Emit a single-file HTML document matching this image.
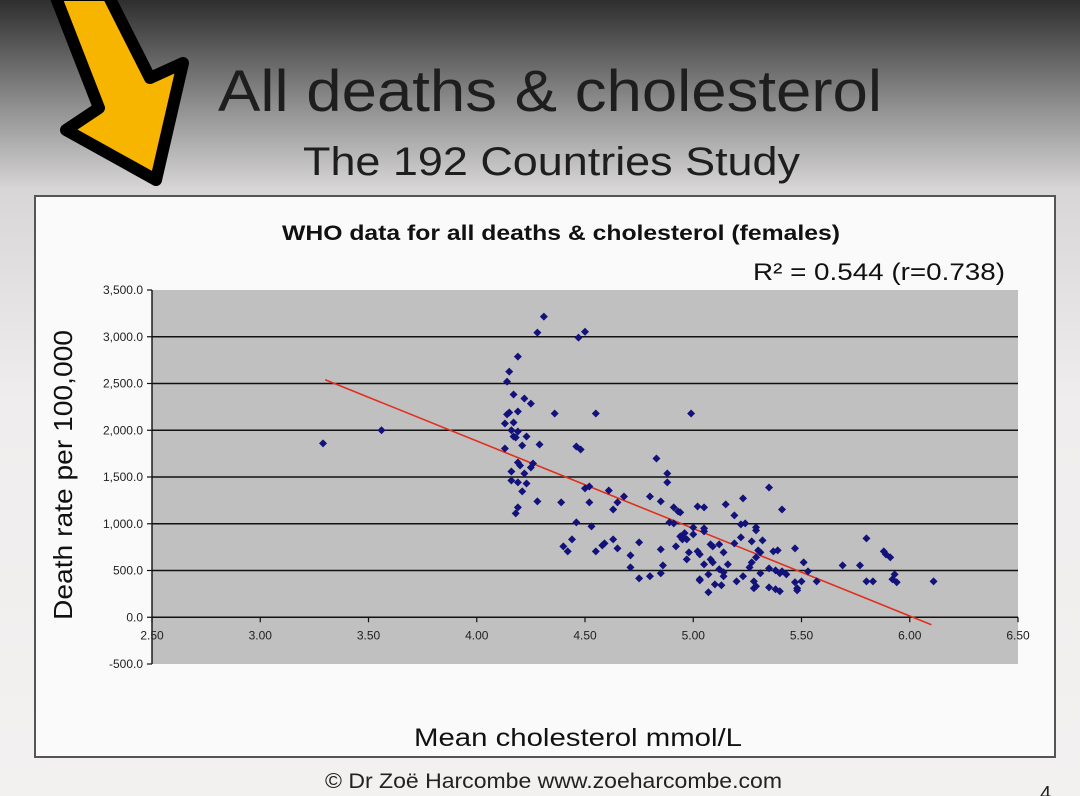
<!DOCTYPE html>
<html><head><meta charset="utf-8">
<style>
html,body{margin:0;padding:0;width:1080px;height:796px;overflow:hidden;font-family:"Liberation Sans","DejaVu Sans",sans-serif;}
body{background:linear-gradient(#2e2e2e 0px,#8a8a8a 100px,#d8d6d6 190px,#efeded 400px,#f3f0f0 796px);}
</style></head>
<body>
<svg width="1080" height="796" xmlns="http://www.w3.org/2000/svg">
<g>
<polygon points="55,-5 108,-5 150,78 183,63 156,180 66,130 99,108" fill="#f7b500" stroke="#000" stroke-width="12" stroke-linejoin="round"/>
</g>
<text x="218" y="111" font-size="58" textLength="664" lengthAdjust="spacingAndGlyphs" fill="#1e1e1e">All deaths &amp; cholesterol</text>
<text x="303" y="175" font-size="40" textLength="497" lengthAdjust="spacingAndGlyphs" fill="#1e1e1e">The 192 Countries Study</text>
<rect x="35" y="196" width="1020" height="561" fill="#fafafa" stroke="#555" stroke-width="2"/>
<text x="282" y="240" font-size="21" font-weight="bold" textLength="558" lengthAdjust="spacingAndGlyphs" fill="#111">WHO data for all deaths &amp; cholesterol (females)</text>
<text x="753" y="280" font-size="24" textLength="252" lengthAdjust="spacingAndGlyphs" fill="#111">R² = 0.544 (r=0.738)</text>
<text transform="translate(72,620) rotate(-90)" font-size="26" textLength="290" lengthAdjust="spacingAndGlyphs" fill="#111">Death rate per 100,000</text>
<text x="414" y="746" font-size="25" textLength="328" lengthAdjust="spacingAndGlyphs" fill="#111">Mean cholesterol mmol/L</text>
<text x="325" y="788" font-size="21" textLength="457" lengthAdjust="spacingAndGlyphs" fill="#222">© Dr Zoë Harcombe www.zoeharcombe.com</text>
<text x="1040" y="800" font-size="20" fill="#222">4</text>
<g id="plot"></g>
</svg>
<script>
const xTicks=[2.5,3.0,3.5,4.0,4.5,5.0,5.5,6.0,6.5];
const yTicks=[-500,0,500,1000,1500,2000,2500,3000,3500];
const chol=[3.29,3.56,4.31,4.28,4.47,4.50,4.19,4.15,4.14,4.17,4.22,4.25,4.36,4.55,4.99,4.15,4.14,4.19,4.13,4.17,4.16,4.17,4.18,4.19,4.23,4.21,4.29,4.46,4.48,4.13,4.19,4.20,4.26,4.25,4.16,4.22,4.16,4.19,4.23,4.21,4.28,4.39,4.19,4.18,4.50,4.52,4.61,4.68,4.65,4.63,4.52,4.46,4.53,4.83,4.88,4.88,4.80,4.85,4.91,4.93,4.89,4.91,4.40,4.42,4.44,4.55,4.58,4.59,4.63,4.65,4.71,4.71,4.75,4.75,4.80,4.85,4.86,4.85,4.92,4.94,4.95,5.35,5.23,5.02,5.05,5.15,5.41,5.19,4.94,5.22,5.24,5.29,5.29,5.05,5.05,4.95,4.97,5.00,5.80,5.22,5.27,5.19,5.32,5.08,5.09,5.12,5.47,5.30,5.31,5.88,5.89,5.91,4.98,5.02,5.03,5.14,5.37,5.39,4.97,5.08,5.09,5.29,5.51,5.05,5.16,5.27,5.26,5.69,5.77,5.12,5.14,5.35,5.38,5.41,5.53,5.31,5.40,5.43,5.07,5.14,5.93,5.23,5.20,5.03,5.28,5.29,5.47,5.50,5.80,5.83,5.92,5.94,6.11,5.57,5.10,5.13,5.48,5.48,5.35,5.38,5.40,5.07,5.28,5.03,4.96,5.00];
const deaths=[1860,2000,3215,3044,2990,3054,2788,2627,2520,2382,2339,2285,2179,2179,2179,2190,2170,2200,2072,2083,2000,1933,1922,1986,1933,1837,1848,1826,1794,1805,1655,1623,1645,1602,1559,1538,1463,1442,1431,1346,1239,1228,1175,1111,1378,1399,1356,1292,1228,1153,1228,1015,972,1698,1538,1442,1292,1239,1175,1132,1015,1004,758,705,833,705,769,790,833,737,662,534,801,416,438,726,555,470,758,865,833,1388,1271,1185,1175,1207,1153,1089,1121,993,1004,961,929,950,918,865,833,886,844,854,811,790,822,780,758,780,737,715,694,705,673,641,694,705,673,694,705,715,619,619,587,641,587,566,566,587,534,555,555,513,481,523,502,491,491,470,470,459,459,438,459,438,384,406,384,331,374,384,384,384,406,374,384,384,352,342,310,288,320,299,278,267,310,395,900,960];
const trendX=[3.30,6.10];
const trendY=[2540,-80];
const X0=152,X1=1018,Y0=290,Y1=664;
function sx(v){return X0+(v-2.5)/(6.5-2.5)*(X1-X0);}
function sy(v){return Y1-(v+500)/(3500+500)*(Y1-Y0);}
const NS="http://www.w3.org/2000/svg";
const g=document.getElementById('plot');


function mk(t,a){const e=document.createElementNS(NS,t);for(const k in a)e.setAttribute(k,a[k]);g.appendChild(e);return e;}
let r=mk('rect',{x:X0,y:Y0,width:X1-X0,height:Y1-Y0,fill:'#c0c0c0'});


yTicks.forEach(v=>{
  if(v>-500&&v<3500){const l=mk('line',{x1:X0,x2:X1,y1:sy(v),y2:sy(v),stroke:'#111','stroke-width':1.6});
  
  }
  const tk=mk('line',{x1:X0-5,x2:X0,y1:sy(v),y2:sy(v),stroke:'#111','stroke-width':1.2});
  
  
  const t=mk('text',{x:X0-9,y:sy(v)+4,'font-size':12,'text-anchor':'end',fill:'#222'});
  t.textContent=v.toLocaleString('en-US',{minimumFractionDigits:1,maximumFractionDigits:1});
  
  
});
let ya=mk('line',{x1:X0,x2:X0,y1:Y0,y2:Y1,stroke:'#111','stroke-width':1.4});


xTicks.forEach(v=>{
  const tk=mk('line',{x1:sx(v),x2:sx(v),y1:sy(0),y2:sy(0)+5,stroke:'#111','stroke-width':1.2});
  
  
  const t=mk('text',{x:sx(v),y:sy(0)+22,'font-size':12,'text-anchor':'middle',fill:'#222'});
  t.textContent=v.toFixed(2);
  
  
});
const tl=mk('line',{x1:sx(trendX[0]),y1:sy(trendY[0]),x2:sx(trendX[1]),y2:sy(trendY[1]),stroke:'#e03020','stroke-width':1.6});


chol.forEach((c,i)=>{
  const x=sx(c),y=sy(deaths[i]);
  const p=mk('polygon',{points:`${x},${y-4} ${x+4},${y} ${x},${y+4} ${x-4},${y}`,fill:'#12127a'});
  
  
});
</script>
</body></html>
